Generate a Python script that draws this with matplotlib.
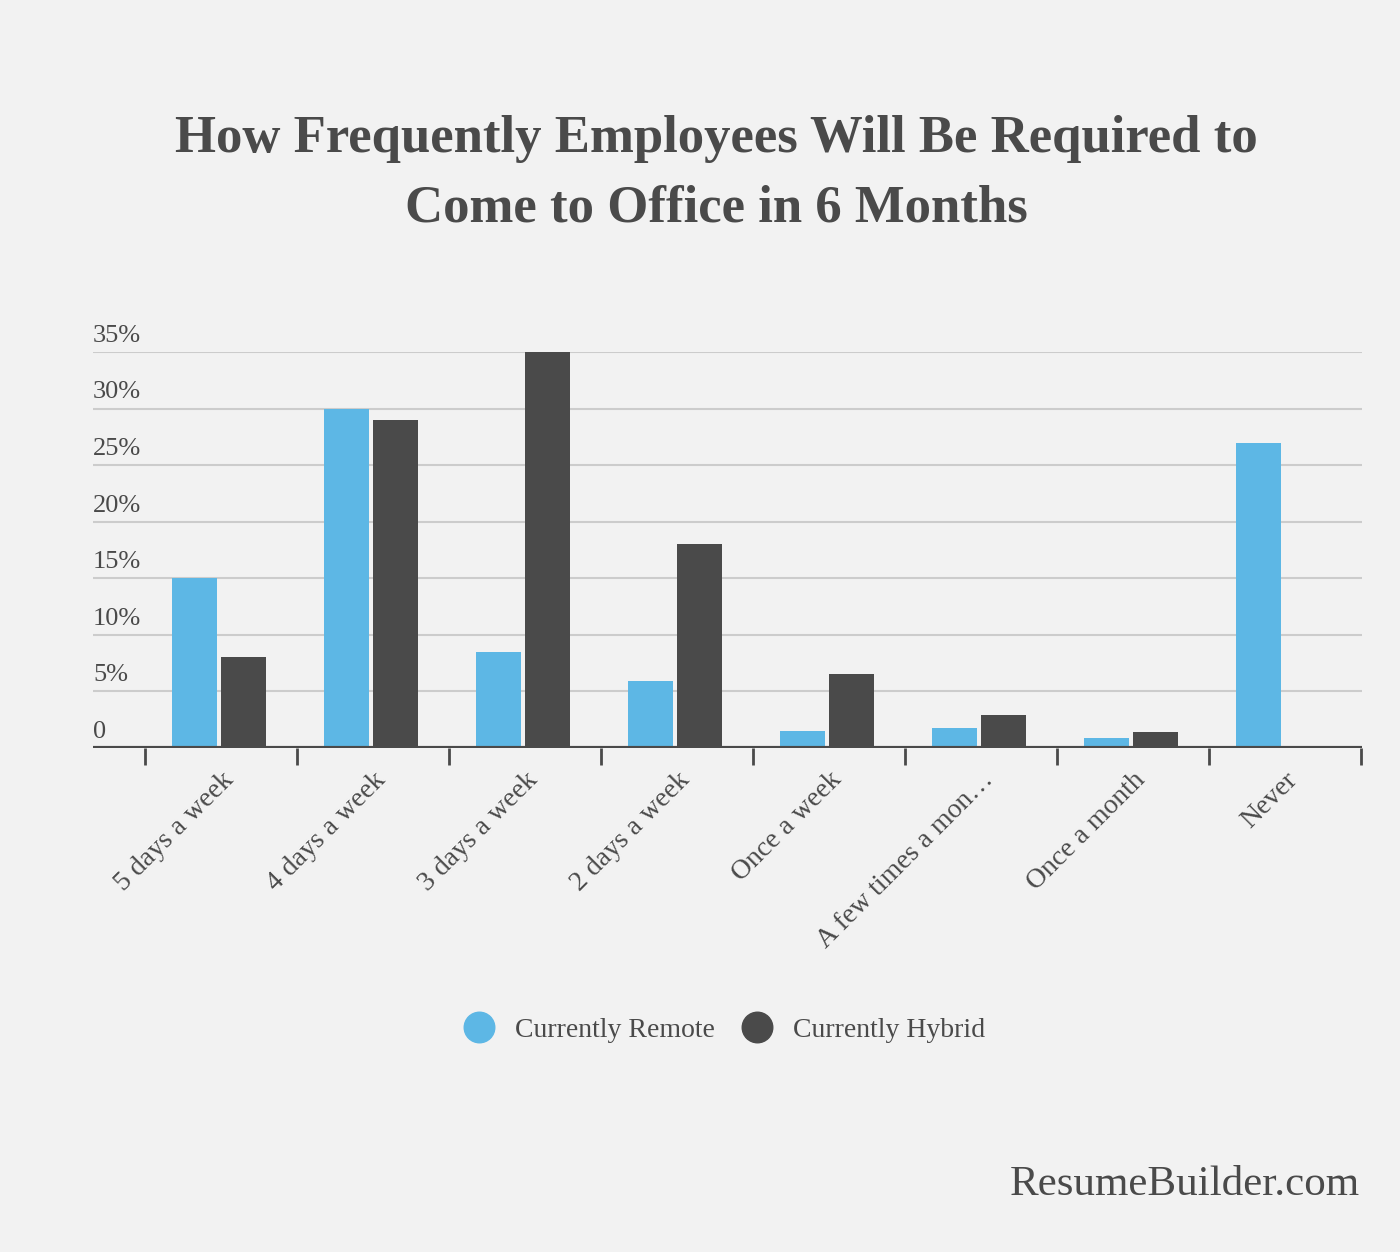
import matplotlib
matplotlib.use("Agg")
import matplotlib.pyplot as plt
import matplotlib.transforms as mtransforms
from matplotlib.lines import Line2D
import numpy as np

# データ
categories = ["5 days a week", "4 days a week", "3 days a week", "2 days a week",
              "Once a week", "A few times a mon\u2026", "Once a month", "Never"]
remote = [15.0, 30.0, 8.5, 5.9, 1.5, 1.8, 0.9, 27.0]
hybrid = [8.0, 29.0, 35.0, 18.0, 6.5, 2.9, 1.4, 0.0]
y_ticks = [0, 5, 10, 15, 20, 25, 30, 35]
y_labels = ["0", "5%", "10%", "15%", "20%", "25%", "30%", "35%"]

BG = "#f2f2f2"
BLUE = "#5db7e5"
DARK = "#4a4a4a"
TEXT = "#4a4a4a"
FONT = ["Liberation Serif", "DejaVu Serif"]

plt.rcParams["font.family"] = FONT

fig = plt.figure(figsize=(14, 12.52), dpi=100, facecolor=BG)
ax = fig.add_axes([93 / 1400, 1 - 748 / 1252, (1362 - 93) / 1400, (748 - 352) / 1252])
ax.set_facecolor(BG)

x = np.arange(len(categories))
w = 0.296
ax.bar(x - 0.012 - 0.163, remote, width=w, color=BLUE, zorder=3)
ax.bar(x - 0.012 + 0.163, hybrid, width=w, color=DARK, zorder=3)

ax.set_xlim(-0.842, 7.507)
ax.set_ylim(0, 35)

# グリッドとY軸ラベル（線の上に左寄せ）
trans = mtransforms.blended_transform_factory(ax.transAxes, ax.transData)
for v, lab in zip(y_ticks, y_labels):
    if v > 0:
        ax.axhline(v, color="#cccccc", lw=1.5, zorder=1)
    ax.text(0, v + 0.45, lab, transform=trans, ha="left", va="bottom",
            fontsize=19, color=TEXT)
ax.axhline(0, color=DARK, lw=3, zorder=4)

for s in ax.spines.values():
    s.set_visible(False)
ax.set_yticks([])

# 境界の目盛りとカテゴリラベル
ax.set_xticks(np.arange(len(categories) + 1) - 0.5)
ax.set_xticklabels([])
ax.tick_params(axis="x", which="major", length=12, width=2, color=DARK, direction="out")
ax.set_xticks(x, minor=True)
ax.set_xticklabels(categories, minor=True, rotation=45, ha="right",
                   rotation_mode="anchor", fontsize=20, color=TEXT)
ax.tick_params(axis="x", which="minor", length=0, pad=14)

fig.text(0.512, 1 - 139 / 1252, "How Frequently Employees Will Be Required to",
         ha="center", va="center", fontsize=38, fontweight="bold", color=TEXT)
fig.text(0.512, 1 - 209 / 1252, "Come to Office in 6 Months",
         ha="center", va="center", fontsize=38, fontweight="bold", color=TEXT)

handles = [Line2D([], [], marker="o", ls="", markersize=22, color=BLUE),
           Line2D([], [], marker="o", ls="", markersize=22, color=DARK)]
fig.legend(handles, ["Currently Remote", "Currently Hybrid"], loc="center",
           bbox_to_anchor=(0.513, 1 - 1030 / 1252), ncol=2, frameon=False,
           fontsize=20, labelcolor=TEXT, handletextpad=0.3, columnspacing=0.5)

fig.text(1360 / 1400, 1 - 1185 / 1252, "ResumeBuilder.com", ha="right", va="center",
         fontsize=31, color=TEXT)

fig.savefig("out.png", dpi=100, facecolor=BG)
